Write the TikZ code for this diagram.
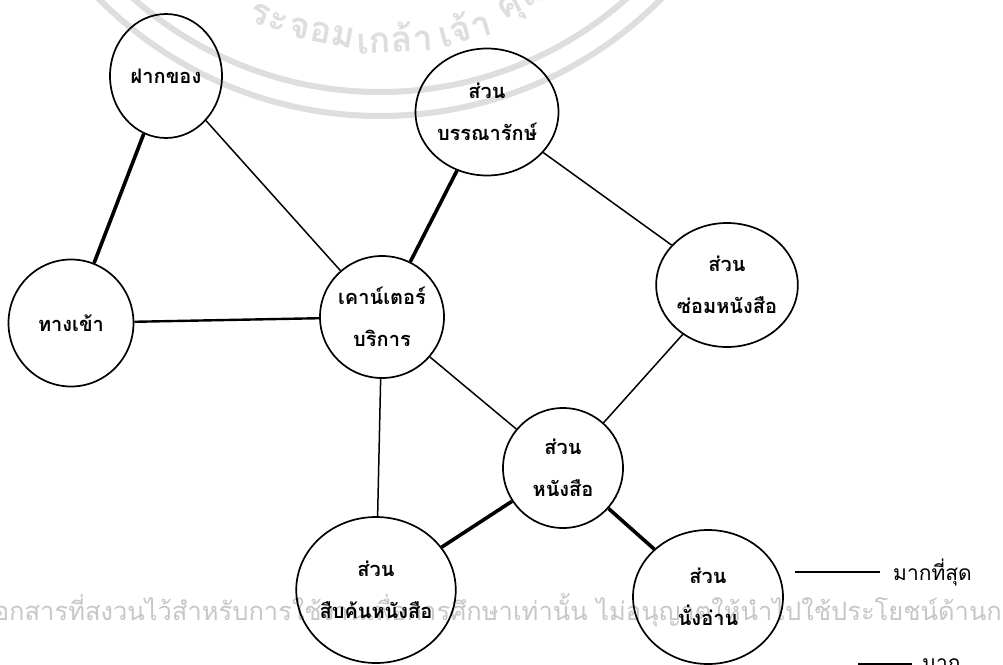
\documentclass[tikz,border=0pt]{standalone}
\usepackage{fontspec}
\newfontfamily\thaifont[Script=Thai]{Loma}
\usepackage{tikz}
\usetikzlibrary{shapes.geometric}

\begin{document}
\begin{tikzpicture}[x=1pt, y=-1pt,
    room/.style={ellipse, draw, line width=1.7pt, inner sep=0pt, align=center,
        font=\thaifont\bfseries\fontsize{20}{42}\selectfont},
    link/.style={line width=1.5pt},
    midlink/.style={line width=2.4pt},
    heavylink/.style={line width=3.6pt},
    keytext/.style={anchor=west, inner sep=0pt, font=\thaifont\fontsize{21}{24}\selectfont},
    stamp/.style={black!13}]
    \fill[white] (0,0) rectangle (1003,664);
    \useasboundingbox (0,0) rectangle (1003,664);
    % faint seal of the scan, top
    \draw[stamp, line width=6pt] (380,-280) circle[radius=372];
    \draw[stamp, line width=6pt] (380,-280) circle[radius=396];
    \foreach \part/\a in {ระ/-20.5, จอม/-10.5, เกล้า/2.7, เจ้า/15.3, คุณ/27.5}
        \node[stamp, rotate=\a, inner sep=0pt, font=\thaifont\bfseries\fontsize{36}{36}\selectfont]
            at ({380+318*sin(\a)},{-280+318*cos(\a)}) {\part};
    % faint note of the scan, bottom
    \node[stamp, text=black!22, anchor=base west, inner sep=0pt,
        font=\thaifont\fontsize{25.5}{26}\selectfont] (note) at (-15,620)
        {เอกสารที่สงวนไว้สำหรับการใช้งานเพื่อการศึกษาเท่านั้น ไม่อนุญาตให้นำไปใช้ประโยชน์ด้านการค้า};

    % rooms
    \node[room, minimum width=112pt, minimum height=124pt] (parcel) at (166,76) {ฝากของ};
    \node[room, minimum width=143pt, minimum height=127pt] (librarian) at (487,112) {ส่วน\\บรรณารักษ์};
    \node[room, minimum width=125pt, minimum height=127pt] (entry) at (71,323) {ทางเข้า};
    \node[room, minimum width=119pt, minimum height=122pt] (counter) at (382,317) {เคาน์เตอร์\\บริการ};
    \node[room, minimum width=129pt, minimum height=124pt] (repair) at (727,285) {ส่วน\\ซ่อมหนังสือ};
    \node[room, minimum width=120pt, minimum height=120pt] (books) at (563,468) {ส่วน\\หนังสือ};
    \node[room, minimum width=142pt, minimum height=146pt] (search) at (376,590) {ส่วน\\สืบค้นหนังสือ};
    \node[room, minimum width=150pt, minimum height=134pt] (reading) at (708,597) {ส่วน\\นั่งอ่าน};

    % links between rooms
    \draw[heavylink] (parcel) -- (entry);
    \draw[link] (parcel) -- (counter);
    \draw[midlink] (entry) -- (counter);
    \draw[heavylink] (librarian) -- (counter);
    \draw[link] (librarian) -- (repair);
    \draw[link] (repair) -- (books);
    \draw[link] (counter) -- (books);
    \draw[link] (counter) -- (search);
    \draw[heavylink] (books) -- (search);
    \draw[heavylink] (books) -- (reading);

    % key
    \node[keytext] (most) at (893,572) {มากที่สุด};
    \coordinate (mostA) at (795,572);
    \coordinate (mostB) at (880,572);
    \draw[midlink] (mostA) -- (mostB);
    \node[keytext, anchor=base west] (much) at (922,670) {มาก};
    \coordinate (muchA) at (858,666);
    \coordinate (muchB) at (912,666);
    \draw[line width=6pt] (muchA) -- (muchB);
\end{tikzpicture}
\end{document}
